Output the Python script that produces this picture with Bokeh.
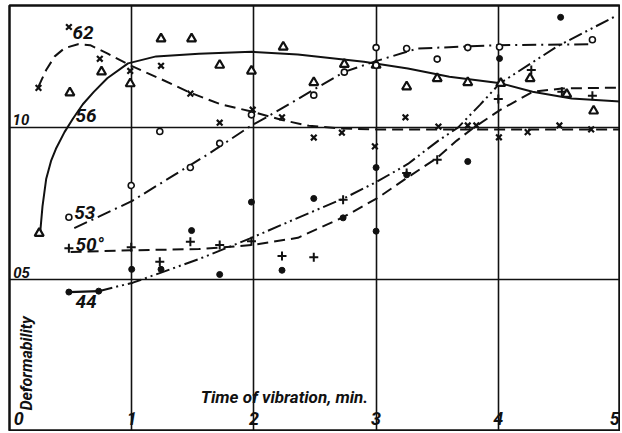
from math import pi
from bokeh.plotting import figure
from bokeh.core.properties import value
from bokeh.embed import file_html
from bokeh.resources import INLINE

# ---- data ----
# scatter points
x62 = [0.237, 0.486, 0.739, 0.988, 1.24, 1.48, 1.72, 1.99, 2.23, 2.49, 2.72, 2.99, 3.24, 3.51, 3.75, 3.82, 4.005, 4.24, 4.50, 4.76]
y62 = [1.131, 1.332, 1.227, 1.187, 1.204, 1.112, 1.016, 1.059, 1.034, 0.967, 0.983, 0.938, 1.034, 1.003, 1.007, 1.007, 0.968, 0.985, 1.007, 0.994]

x56 = [0.243, 0.494, 0.753, 0.988, 1.24, 1.49, 1.72, 1.98, 2.24, 2.49, 2.74, 3.0, 3.25, 3.50, 3.75, 4.02, 4.26, 4.56, 4.78]
y56 = [0.651, 1.115, 1.184, 1.145, 1.293, 1.293, 1.206, 1.187, 1.266, 1.149, 1.209, 1.206, 1.135, 1.162, 1.149, 1.146, 1.162, 1.110, 1.055]

x53 = [0.486, 0.996, 1.23, 1.48, 1.72, 1.98, 2.49, 2.74, 3.0, 3.0, 3.25, 3.50, 3.75, 4.01, 4.77]
y53 = [0.704, 0.809, 0.987, 0.868, 0.948, 1.042, 1.107, 1.183, 1.264, 1.206, 1.261, 1.226, 1.264, 1.266, 1.29]

x50 = [0.486, 0.996, 1.23, 1.48, 1.72, 1.98, 2.23, 2.49, 2.73, 3.25, 3.50, 4.0, 4.27, 4.52, 4.77]
y50 = [0.602, 0.605, 0.557, 0.623, 0.612, 0.625, 0.576, 0.572, 0.762, 0.850, 0.894, 1.094, 1.19, 1.118, 1.105]

x44 = [0.486, 0.73, 1.0, 1.24, 1.49, 1.72, 1.98, 2.23, 2.49, 2.73, 3.0, 3.0, 3.25, 3.75, 4.01, 4.51]
y44 = [0.457, 0.46, 0.532, 0.532, 0.660, 0.515, 0.754, 0.529, 0.766, 0.702, 0.868, 0.658, 0.844, 0.888, 1.228, 1.364]

# traced fitted curves
cx62 = [0.237, 0.30, 0.37, 0.45, 0.56, 0.66, 0.80, 0.99, 1.24, 1.48, 1.72, 1.98, 2.23, 2.45, 2.71, 3.0, 3.34, 5.0]
cy62 = [1.135, 1.19, 1.235, 1.262, 1.275, 1.272, 1.245, 1.205, 1.16, 1.115, 1.078, 1.053, 1.025, 1.006, 0.997, 0.994, 0.994, 0.994]

cx56 = [0.25, 0.27, 0.30, 0.34, 0.38, 0.45, 0.52, 0.60, 0.69, 0.80, 0.97, 1.2, 1.55, 1.98, 2.36, 2.90, 3.26, 3.6, 4.02, 4.28, 4.60, 5.0]
cy56 = [0.648, 0.74, 0.83, 0.89, 0.93, 0.985, 1.03, 1.077, 1.118, 1.163, 1.212, 1.235, 1.244, 1.25, 1.241, 1.217, 1.195, 1.168, 1.146, 1.118, 1.096, 1.086]

cx53 = [0.53, 1.0, 1.64, 1.98, 2.09, 2.49, 2.74, 2.98, 3.34, 4.0, 4.77]
cy53 = [0.668, 0.757, 0.916, 1.007, 1.031, 1.125, 1.184, 1.217, 1.261, 1.272, 1.275]

cx50 = [0.50, 1.0, 1.55, 1.98, 2.36, 2.73, 3.01, 3.26, 3.50, 3.66, 3.80, 4.01, 4.28, 4.52, 5.0]
cy50 = [0.589, 0.595, 0.599, 0.612, 0.636, 0.704, 0.767, 0.836, 0.90, 0.957, 1.0, 1.057, 1.118, 1.129, 1.132]

cx44a = [0.486, 0.73]
cy44a = [0.457, 0.46]
cx44 = [0.73, 1.01, 1.55, 1.98, 2.36, 2.74, 3.01, 3.26, 3.51, 3.67, 3.85, 4.01, 4.49, 4.97]
cy44 = [0.46, 0.488, 0.566, 0.636, 0.702, 0.767, 0.822, 0.88, 0.957, 1.0, 1.075, 1.145, 1.27, 1.37]

curve_labels = ["62", "56", "53", "50°", "44"]
label_x = [0.515, 0.54, 0.53, 0.54, 0.54]
label_y = [1.315, 1.04, 0.721, 0.614, 0.425]

xtick_vals = [1, 2, 3, 4]
xtick_labels = ["1", "2", "3", "4"]
ytick_vals = [1.0, 0.5]
ytick_labels = ["10", "05"]

FONT = value("Roboto")
INK = "#111111"

p = figure(width=620, height=431, x_range=(0, 5.0), y_range=(0, 1.403),
           output_backend="svg", toolbar_location=None,
           min_border_left=9, min_border_top=5, min_border_right=0, min_border_bottom=1,
           background_fill_color="white", border_fill_color="white")
p.xaxis.visible = False
p.yaxis.visible = False
p.xgrid.ticker = [1, 2, 3, 4]
p.ygrid.ticker = ytick_vals
for g in (p.xgrid, p.ygrid):
    g.grid_line_color = INK
    g.grid_line_width = 1.6
    g.grid_line_alpha = 1.0
p.outline_line_color = INK
p.outline_line_width = 2.5
p.outline_line_alpha = 1.0

# curves
p.line(cx62, cy62, line_color=INK, line_width=2, line_dash="11 6")
p.line(cx56, cy56, line_color=INK, line_width=2)
p.line(cx53, cy53, line_color=INK, line_width=2, line_dash="14 5 2 5")
p.line(cx50, cy50, line_color=INK, line_width=2, line_dash="11 6")
p.line(cx44a, cy44a, line_color=INK, line_width=2.2)
p.line(cx44, cy44, line_color=INK, line_width=2, line_dash="14 4 2 4 2 4")

# markers
p.scatter(x62, y62, marker="x", size=8, line_color=INK, line_width=2.2)
p.scatter(x56, y56, marker="triangle", size=9, line_color=INK, line_width=2.2, fill_color="white")
p.scatter(x53, y53, marker="circle", size=6, line_color=INK, line_width=1.6, fill_color="white")
p.scatter(x50, y50, marker="cross", size=9, line_color=INK, line_width=2)
p.scatter(x44, y44, marker="circle", size=6, line_color=INK, fill_color=INK)

TXT = dict(text_font=FONT, text_font_style="bold italic", text_color=INK, text_baseline="middle")

# curve labels
p.text(x=label_x, y=label_y, text=curve_labels, text_font_size="19px", text_align="left", **TXT)

# tick labels (inside frame, as in original)
p.text(x=[0.035], y=[0.04], text=["0"], text_font_size="18px", text_align="left", **TXT)
p.text(x=xtick_vals, y=[0.04] * 4, text=xtick_labels, text_font_size="18px", text_align="center", **TXT)
p.text(x=[4.993], y=[0.04], text=["5"], text_font_size="18px", text_align="right", **TXT)
p.text(x=[0.025, 0.03], y=[1.027, 0.522], text=ytick_labels, text_font_size="15px", text_align="left", **TXT)

# axis titles
p.text(x=[1.565], y=[0.11], text=["Time of vibration, min."], text_font_size="17px",
       text_align="left", **TXT)
p.text(x=[0.143], y=[0.066], text=["Deformability"], angle=pi / 2, text_font_size="16px",
       text_align="left", **TXT)

open("out.html", "w").write(file_html(p, INLINE))
